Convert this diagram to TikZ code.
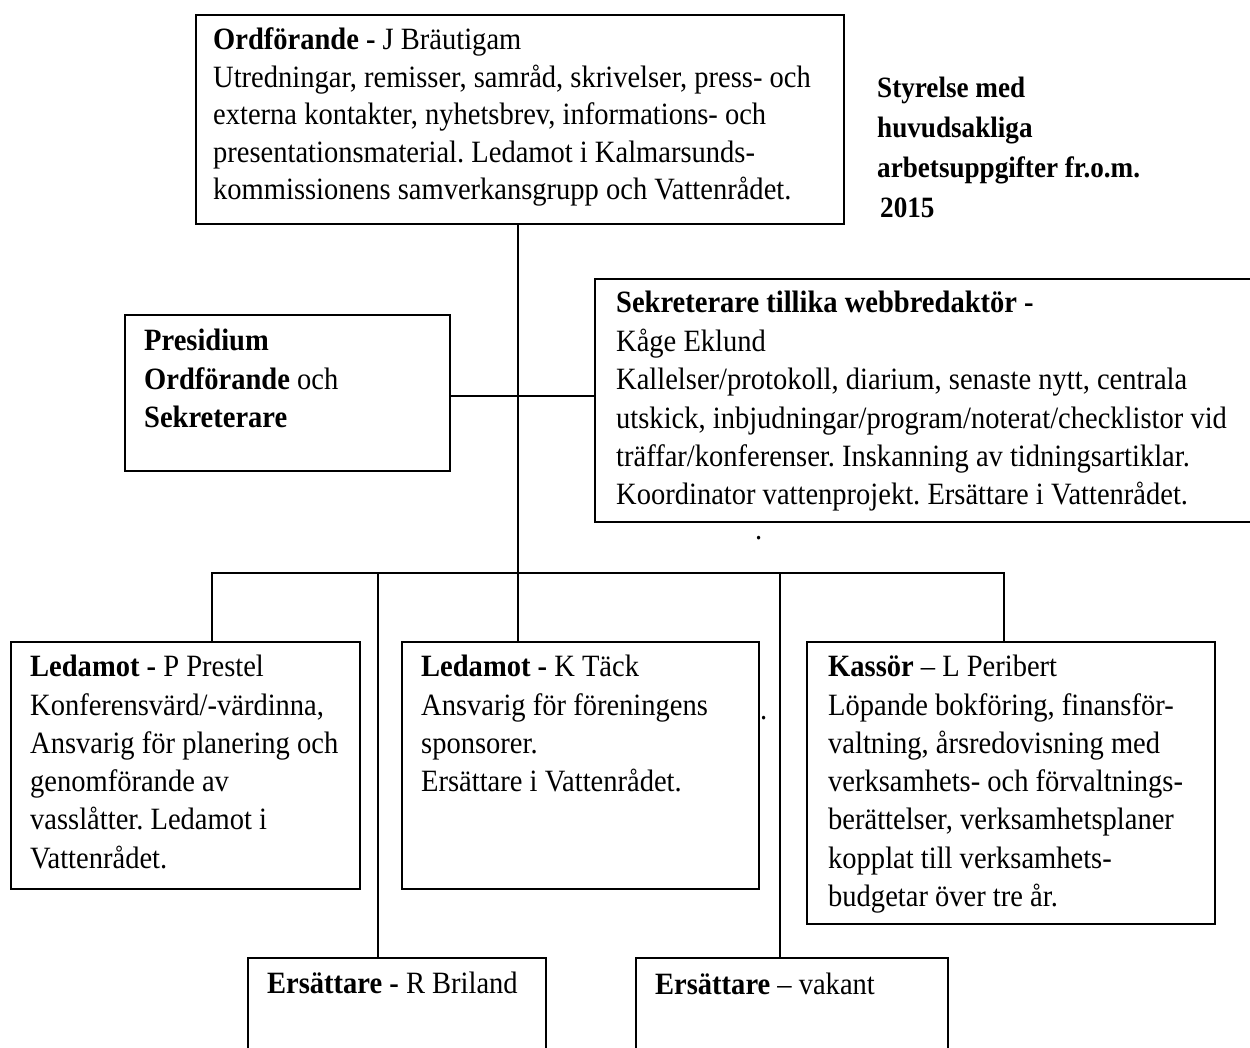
\documentclass[tikz,border=0pt]{standalone}
\usepackage{fontspec}
\setmainfont{Liberation Serif}[FakeStretch=0.92]
\usetikzlibrary{calc}
\frenchspacing
\begin{document}
\begin{tikzpicture}[x=1pt,y=-1pt,
  box/.style={draw, line width=2pt, inner sep=0pt, anchor=north west, rectangle},
  txt/.style={inner sep=0pt, anchor=base west, font=\fontsize{31}{38.3}\selectfont},
  link/.style={line width=2pt},
]
\useasboundingbox (0,0) rectangle (1250,1048);
\fill[white] (0,0) rectangle (1250,1048);

% boxes
\node[box, minimum width=648pt, minimum height=209pt] (chair) at (195,14) {};
\node[box, minimum width=325.5pt, minimum height=156pt] (pres) at (123.5,314) {};
\node[box, minimum width=700pt, minimum height=243pt] (sek) at (594,278) {};
\node[box, minimum width=349pt, minimum height=247.3pt] (ledp) at (10,641) {};
\node[box, minimum width=356.5pt, minimum height=247.3pt] (tack) at (401,641) {};
\node[box, minimum width=408pt, minimum height=281.5pt] (kas) at (806,641) {};
\node[box, minimum width=298.5pt, minimum height=150pt] (ersr) at (246.5,957) {};
\node[box, minimum width=312pt, minimum height=150pt] (ersv) at (635,957) {};

% texts
\node[txt, font=\fontsize{31}{37.5}\selectfont] (chairtxt) at (213,50) {\parbox[t]{800pt}{%
\textbf{Ordförande -} J Bräutigam\\
Utredningar, remisser, samråd, skrivelser, press- och\\
externa kontakter, nyhetsbrev, informations- och\\
presentationsmaterial. Ledamot i Kalmarsunds-\\
kommissionens samverkansgrupp och Vattenrådet.}};

\node[txt, font=\fontsize{31}{38.5}\selectfont] (prestxt) at (144,350.7) {\parbox[t]{400pt}{%
\textbf{Presidium}\\
\textbf{Ordförande} och\\
\textbf{Sekreterare}}};

\node[txt, font=\fontsize{31}{38.4}\selectfont] (sektxt) at (616,313) {\parbox[t]{800pt}{%
\textbf{Sekreterare tillika webbredaktör -}\\
Kåge Eklund\\
Kallelser/protokoll, diarium, senaste nytt, centrala\\
utskick, inbjudningar/program/noterat/checklistor vid\\
träffar/konferenser. Inskanning av tidningsartiklar.\\
Koordinator vattenprojekt. Ersättare i Vattenrådet.}};

\node[txt] (ledptxt) at (30,676.7) {\parbox[t]{400pt}{%
\textbf{Ledamot -} P Prestel\\
Konferensvärd/-värdinna,\\
Ansvarig för planering och\\
genomförande av\\
vasslåtter. Ledamot i\\
Vattenrådet.}};

\node[txt] (tacktxt) at (421,676.7) {\parbox[t]{400pt}{%
\textbf{Ledamot -} K Täck\\
Ansvarig för föreningens\\
sponsorer.\\
Ersättare i Vattenrådet.}};

\node[txt] (kastxt) at (828,676.7) {\parbox[t]{400pt}{%
\textbf{Kassör} – L Peribert\\
Löpande bokföring, finansför-\\
valtning, årsredovisning med\\
verksamhets- och förvaltnings-\\
berättelser, verksamhetsplaner\\
kopplat till verksamhets-\\
budgetar över tre år.}};

\node[txt] (ersrtxt) at (267,993) {\textbf{Ersättare -} R Briland};
\node[txt] (ersvtxt) at (655,994) {\textbf{Ersättare} – vakant};

\node[txt, font=\fontsize{29.5}{40}\selectfont\bfseries] (title) at (877,98) {\parbox[t]{400pt}{%
Styrelse med\\
huvudsakliga\\
arbetsuppgifter fr.o.m.\\
\hspace*{3pt}2015}};

\node[txt] (dot1) at (755,539) {.};
\node[txt] (dot2) at (760,719) {.};

% connectors
\coordinate (jn) at (518,396);
\coordinate (bus) at (518,573);
\coordinate (busL) at (212,573);
\coordinate (busR) at (1004,573);
\coordinate (b2) at (378,573);
\coordinate (b4) at (780,573);
\draw[link] (bus |- chair.south) -- (bus |- tack.north);
\draw[link] (pres.east |- jn) -- (sek.west |- jn);
\draw[link] (busL |- ledp.north) -- (busL) -- (busR) -- (busR |- kas.north);
\draw[link] (b2) -- (b2 |- ersr.north);
\draw[link] (b4) -- (b4 |- ersv.north);
\end{tikzpicture}
\end{document}
